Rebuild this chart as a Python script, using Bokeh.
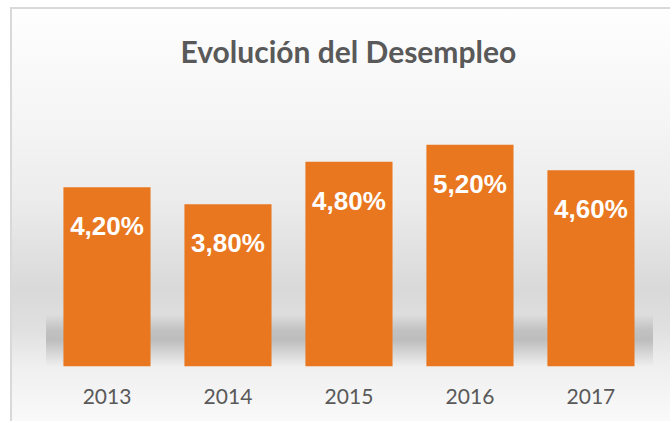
from bokeh.plotting import figure
from bokeh.models import ColumnDataSource, LabelSet, Range1d, FixedTicker
from bokeh.core.properties import value
from bokeh.embed import file_html
from bokeh.resources import INLINE

# ---- data ----
years = ["2013", "2014", "2015", "2016", "2017"]
unemployment = [4.2, 3.8, 4.8, 5.2, 4.6]
labels = [f"{v:.2f}".replace(".", ",") + "%" for v in unemployment]
idx = list(range(len(years)))

source = ColumnDataSource(dict(x=idx, top=unemployment, label=labels))

W, H = 660, 414
p = figure(width=W, height=H, output_backend="svg", toolbar_location=None,
           x_range=Range1d(-0.781, 4.674), y_range=Range1d(0, 6.703),
           min_border_left=0, min_border_right=0, min_border_top=71,
           min_border_bottom=57, title="Evolución del Desempleo")

wall = ("linear-gradient(to bottom, #fefefe 0px, #f6f6f6 101px, #ececec 191px, "
        "#d9d9d9 281px, #e0e0e0 321px, #efefef 357px, #fafafa 414px)")
floor_shadow = ("linear-gradient(to bottom, #dcdcdc 0px, #c2c2c2 15px, #bdbdbd 25px, "
                "#d6d6d6 38px, #eeeeee 51px)")
p.styles = {
    "margin-left": "10px",
    "margin-top": "7px",
    "border-left": "2px solid #d9d9d9",
    "border-top": "2px solid #d9d9d9",
    "background-image": f"{floor_shadow}, {wall}",
    "background-size": "607px 51px, 100% 100%",
    "background-position": "34px 306px, 0px 0px",
    "background-repeat": "no-repeat",
}

p.border_fill_alpha = 0
p.background_fill_alpha = 0
p.outline_line_color = None
p.grid.visible = False
p.yaxis.visible = False

p.vbar(x="x", top="top", bottom=0, width=0.72, source=source,
       fill_color="#e8771f", line_color=None)

p.add_layout(LabelSet(x="x", y="top", text="label", source=source,
                      y_offset=-48, text_align="center", text_baseline="alphabetic",
                      text_color="white", text_font=value("Liberation Sans"),
                      text_font_style="bold", text_font_size="26px"))

p.title.text_font = "Lato"
p.title.text_font_style = "bold"
p.title.text_font_size = "30px"
p.title.text_color = "#595959"
p.title.align = "left"
p.title.offset = 168
p.title.standoff = 24

ax = p.xaxis[0]
ax.ticker = FixedTicker(ticks=idx)
ax.major_label_overrides = {i: y for i, y in zip(idx, years)}
ax.axis_line_color = None
ax.major_tick_line_color = None
ax.minor_tick_line_color = None
ax.major_label_text_font = "Lato"
ax.major_label_text_font_size = "21px"
ax.major_label_text_color = "#595959"
ax.major_label_standoff = 16

open("out.html", "w").write(file_html(p, INLINE))
